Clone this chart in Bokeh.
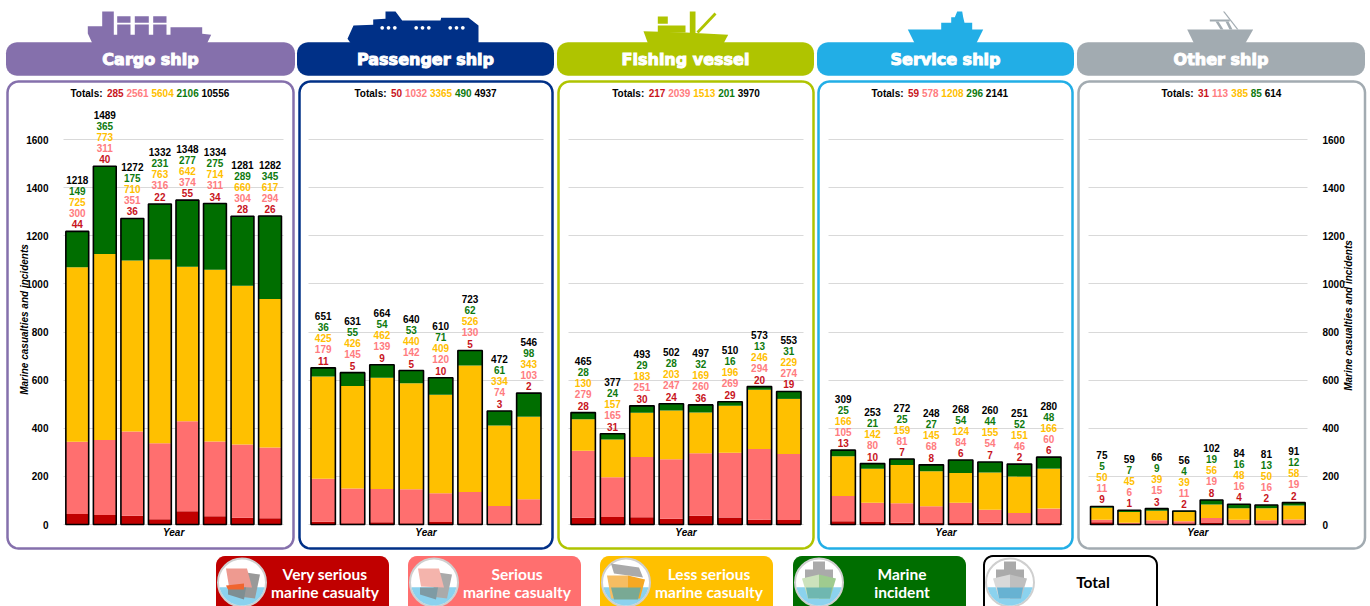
import math
from bokeh.plotting import figure
from bokeh.layouts import column, row
from bokeh.models import ColumnDataSource, Range1d, FixedTicker
from bokeh.core.properties import value
from bokeh.embed import file_html
from bokeh.resources import INLINE

# ---- data -----------------------------------------------------------------
ship_types = ["Cargo ship", "Passenger ship", "Fishing vessel", "Service ship", "Other ship"]
cargo_very = [44, 40, 36, 22, 55, 34, 28, 26]
cargo_serious = [300, 311, 351, 316, 374, 311, 304, 294]
cargo_less = [725, 773, 710, 763, 642, 714, 660, 617]
cargo_incident = [149, 365, 175, 231, 277, 275, 289, 345]
cargo_total = [1218, 1489, 1272, 1332, 1348, 1334, 1281, 1282]
cargo_sums = [285, 2561, 5604, 2106, 10556]

passenger_very = [11, 5, 9, 5, 10, 5, 3, 2]
passenger_serious = [179, 145, 139, 142, 120, 130, 74, 103]
passenger_less = [425, 426, 462, 440, 409, 526, 334, 343]
passenger_incident = [36, 55, 54, 53, 71, 62, 61, 98]
passenger_total = [651, 631, 664, 640, 610, 723, 472, 546]
passenger_sums = [50, 1032, 3365, 490, 4937]

fishing_very = [28, 31, 30, 24, 36, 29, 20, 19]
fishing_serious = [279, 165, 251, 247, 260, 269, 294, 274]
fishing_less = [130, 157, 183, 203, 169, 196, 246, 229]
fishing_incident = [28, 24, 29, 28, 32, 16, 13, 31]
fishing_total = [465, 377, 493, 502, 497, 510, 573, 553]
fishing_sums = [217, 2039, 1513, 201, 3970]

service_very = [13, 10, 7, 8, 6, 7, 2, 6]
service_serious = [105, 80, 81, 68, 84, 54, 46, 60]
service_less = [166, 142, 159, 145, 124, 155, 151, 166]
service_incident = [25, 21, 25, 27, 54, 44, 52, 48]
service_total = [309, 253, 272, 248, 268, 260, 251, 280]
service_sums = [59, 578, 1208, 296, 2141]

other_very = [9, 1, 3, 2, 8, 4, 2, 2]
other_serious = [11, 6, 15, 11, 19, 16, 16, 19]
other_less = [50, 45, 39, 39, 56, 48, 50, 58]
other_incident = [5, 7, 9, 4, 19, 16, 13, 12]
other_total = [75, 59, 66, 56, 102, 84, 81, 91]
other_sums = [31, 113, 385, 85, 614]

y_ticks = [0, 200, 400, 600, 800, 1000, 1200, 1400, 1600]
legend_labels = [("Very serious", "marine casualty"), ("Serious", "marine casualty"),
                 ("Less serious", "marine casualty"), ("Marine", "incident"), ("Total",)]
x_title, y_title = "Year", "Marine casualties and incidents"

# ---- style ----------------------------------------------------------------
FILL = ["#c00000", "#ff6f6f", "#ffc000", "#006e00"]
TXT = ["#c8141c", "#ff7c80", "#ffc000", "#0e7a0e", "#000000"]
THEME = ["#8570ac", "#003087", "#afc400", "#22aee6", "#a2abb1"]
FONT = "Liberation Sans"
PX_PER_UNIT = 385 / 1600
ZERO_Y, FIG_H = 524, 552

FIGS = [(0, 296, 63, 283.3), (296, 556, 308, 543), (556, 816, 568, 803),
        (816, 1076, 828, 1063), (1076, 1370, 1087.7, 1307)]
PANELS = [(7, 293), (299, 552), (558, 813), (818, 1072), (1078, 1364.5)]
HEADERS = [(5.5, 294.5), (296.5, 553.5), (556.5, 813.5), (816.5, 1073.5), (1076.5, 1364.5)]
TOT_X = [70, 354, 611.7, 871, 1161]
OFFS = [7, 18.5, 29.5, 40.5, 51.5]


def rounded(l, r, t, b, rad=9):
    xs, ys = [], []
    for cx, cy, a0 in [(r - rad, t + rad, -90), (r - rad, b - rad, 0), (l + rad, b - rad, 90), (l + rad, t + rad, 180)]:
        for d in range(0, 91, 15):
            a = math.radians(a0 + d)
            xs.append(cx + rad * math.cos(a))
            ys.append(cy + rad * math.sin(a))
    xs.append(xs[0])
    ys.append(ys[0])
    return xs, ys


def icon(i):
    """ship silhouettes, page pixels: list of (xs, ys, color)"""
    c, w = THEME[i], "#ffffff"
    if i == 0:
        out = [([87.3, 101.7, 101.7, 113.3, 113.3, 170, 170, 201.7, 201.7, 210.7, 206.7, 91.7, 87.3],
                [25.7, 25.7, 11, 11, 34.3, 34.3, 26.7, 26.7, 33.3, 34.3, 42.5, 42.5, 33], c)]
        for a, b in [(116.7, 130), (134.3, 148.3), (152.7, 166)]:
            out.append(([a, b, b, a], [15.7, 15.7, 22.3, 22.3], c))
            out.append(([a, b, b, a], [24, 24, 35, 35], c))
        return out
    if i == 1:
        out = [([347, 353, 372.7, 372.7, 385, 385, 395, 401.7, 440, 440.7, 468, 478, 478, 350],
                [38.3, 25, 24.3, 19, 18.3, 11, 11, 20, 20, 17.3, 17.3, 25, 42.5, 42.5], c)]
        for gx in [381.7, 415.7, 449.7]:
            for k in range(3):
                xs = [gx + k * 6.3 + 1.9 * math.cos(t * math.pi / 4) for t in range(8)]
                ys = [27.3 + 1.9 * math.sin(t * math.pi / 4) for t in range(8)]
                out.append((xs, ys, w))
        return out
    if i == 2:
        return [([643, 685, 727.7, 723.3, 647.3], [30.7, 32, 34.3, 42.5, 42.5], c),
                ([657.3, 667.3, 667.3, 657.3], [16, 16, 23.3, 23.3], c),
                ([657.3, 685, 685, 657.3], [25, 25, 32, 32], c),
                ([689.3, 695, 695, 689.3], [11, 11, 33, 33], c),
                ([696, 714, 716, 698], [31, 12, 14, 33], c)]
    if i == 3:
        return [([907.3, 940.7, 940.7, 950.7, 950.7, 954.3, 956.7, 961.7, 962.7, 964, 971.7, 971.7,
                  982.7, 976, 914],
                 [29, 29, 22.3, 22.3, 16.7, 16.7, 11, 11, 16.7, 22.3, 22.3, 29, 29, 42.5, 42.5], c)]
    return [([1186.7, 1252.7, 1245, 1193.3], [29, 29, 42.5, 42.5], c),
            ([1209.3, 1229.3, 1229.3, 1209.3], [19, 19, 21, 21], c),
            ([1215, 1218, 1223, 1220], [21, 21, 29, 29], c),
            ([1225, 1228, 1232, 1229], [21, 21, 29, 29], c),
            ([1222.5, 1224, 1238, 1236.5], [11, 11, 29, 29], c)]


def make_panel(i, very, serious, less, incident, total, sums):
    fx0, fx1, fl, fr = FIGS[i]
    xd = lambda px: (px - fl) / (fr - fl) * 8 - 0.5
    yd = lambda py: (ZERO_Y - py) / PX_PER_UNIT
    p = figure(width=fx1 - fx0, height=FIG_H, output_backend="svg", toolbar_location=None,
               x_range=Range1d(xd(fx0), xd(fx1)), y_range=Range1d(yd(FIG_H), yd(0)), min_border=0,
               y_axis_location="right" if i == 4 else "left", background_fill_color=None,
               border_fill_color=None, outline_line_color=None)

    def label(px, py, s, color="#000000", font=FONT, size="10px", style="bold", align="center",
              angle=0, baseline="middle", outline=None):
        p.text(x=[xd(px)], y=[yd(py)], text=[s], text_align=align, text_baseline=baseline,
               text_font=value(font), text_font_size=size, text_font_style=style,
               text_color=color, angle=angle, text_outline_color=outline)

    # panel frame, header, ship icon
    pl, pr = PANELS[i]
    xs, ys = rounded(pl, pr, 81, 548, 11)
    p.line([xd(v) for v in xs], [yd(v) for v in ys], line_color=THEME[i], line_width=2.5)
    hl, hr = HEADERS[i]
    xs, ys = rounded(hl, hr, 41.8, 75.2, 11)
    p.patch([xd(v) for v in xs], [yd(v) for v in ys], fill_color=THEME[i], line_color=None)
    for xs, ys, c in icon(i):
        p.patch([xd(v) for v in xs], [yd(v) for v in ys], fill_color=c, line_color=None)
    label((hl + hr) / 2, 59, ship_types[i], color="#ffffff", font="DejaVu Sans", size="16px",
          outline="#ffffff")

    # totals line
    cx = TOT_X[i]
    parts = [("Totals:", "#000000")] + [(str(v), TXT[k]) for k, v in enumerate(sums)]
    for n, (s, c) in enumerate(parts):
        label(cx, 92.5, s, color=c, align="left", baseline="alphabetic")
        cx += (33.7 if n == 0 else len(s) * 5.56) + 2.78

    # bars
    src = ColumnDataSource(dict(x=list(range(8)), very=very, serious=serious, less=less,
                                incident=incident, total=total,
                                t_very=[str(v) for v in very], t_serious=[str(v) for v in serious],
                                t_less=[str(v) for v in less], t_incident=[str(v) for v in incident],
                                t_total=[str(v) for v in total]))
    p.vbar_stack(["very", "serious", "less", "incident"], x="x", width=0.83, source=src,
                 color=FILL, line_width=0)
    p.vbar(x="x", top="total", bottom=0, width=0.83, source=src, fill_color=None,
           line_color="#000000", line_width=1.6)
    for k, col in enumerate(["t_very", "t_serious", "t_less", "t_incident", "t_total"]):
        p.text(x="x", y="total", text=col, source=src, y_offset=-OFFS[k], text_align="center",
               text_baseline="middle", text_font=value(FONT), text_font_size="10px",
               text_font_style="bold", text_color=TXT[k])

    # axes and grid
    p.xgrid.visible = False
    p.xaxis.visible = False
    p.ygrid.ticker = FixedTicker(ticks=y_ticks)
    p.ygrid.grid_line_color = "#d9d9d9"
    p.ygrid.cross_bounds = (-0.5, 7.5)
    label((fl + fr) / 2, 531.7, x_title, style="bold italic")
    ya = p.yaxis[0]
    if i in (0, 4):
        ya.fixed_location = -0.5 if i == 0 else 7.5
        ya.ticker = FixedTicker(ticks=y_ticks)
        ya.axis_line_color = None
        ya.major_tick_line_color = None
        ya.minor_tick_line_color = None
        ya.major_label_standoff = 9
        ya.major_label_text_font = FONT
        ya.major_label_text_font_size = "10px"
        ya.major_label_text_font_style = "bold"
        ya.major_label_text_color = "#000000"
        tx, ty = (24, 319) if i == 0 else (1348, 315)
        label(tx, ty, y_title, style="bold italic", angle=math.pi / 2)
    else:
        ya.visible = False
    return p


f = [make_panel(0, cargo_very, cargo_serious, cargo_less, cargo_incident, cargo_total, cargo_sums),
     make_panel(1, passenger_very, passenger_serious, passenger_less, passenger_incident, passenger_total, passenger_sums),
     make_panel(2, fishing_very, fishing_serious, fishing_less, fishing_incident, fishing_total, fishing_sums),
     make_panel(3, service_very, service_serious, service_less, service_incident, service_total, service_sums),
     make_panel(4, other_very, other_serious, other_less, other_incident, other_total, other_sums)]

# ---- legend strip ---------------------------------------------------------
lg = figure(width=1370, height=54, output_backend="svg", toolbar_location=None,
            x_range=Range1d(0, 1370), y_range=Range1d(606, 552), min_border=0,
            background_fill_color=None, border_fill_color=None, outline_line_color=None)
lg.axis.visible = False
lg.grid.visible = False

LEG_BOX = [(215.5, 388.5), (407.5, 580.5), (599.5, 772.5), (792.5, 965.5), (983.5, 1156.5)]
LEG_FILL = FILL + ["#ffffff"]
LEG_TXT = ["#ffffff"] * 4 + ["#000000"]
WATER_Y = 587
# ship pieces per badge as offsets from the circle centre: (offset points, colour)
BADGE = [
    [([4, 18, 13, -3], [-10, -8, 16, 14], "#999999"), ([-16, 5, 10, -13], [-14, -14, 5, 4], "#ee9a90"),
     ([-14, 4, 2, -14], [5, 5, 17, 12], "#7e8e92"), ([-16, 2, 2, -14], [3, 1, 7, 7], "#f0652f")],
    [([4, 18, 13, -3], [-10, -8, 16, 14], "#aaaaaa"), ([-16, 5, 10, -13], [-14, -14, 5, 4], "#f4b4ac"),
     ([-14, 4, 2, -14], [5, 5, 17, 12], "#7e9ba4")],
    [([-15, 13, 17, -12], [-19, -15, -5, -9], "#aaaaaa"), ([-19, 2, 2, -15], [-7, -7, 16, 16], "#f6bd62"),
     ([2, 19, 14, 2], [-7, -3, 16, 16], "#f6a823"), ([-15, 15, 12, -12], [5, 5, 17, 17], "#79a994")],
    [([-6, 6, 6, 14, 14, -14, -14, -6], [-21, -21, -13, -13, -4, -4, -13, -13], "#aaaaaa"),
     ([-17, 0, 0, -11], [-4, -8, 16, 16], "#cce2bc"), ([0, 17, 11, 0], [-8, -4, 16, 16], "#9fcb8f"),
     ([-13, 13, 11, -11], [5, 5, 16, 16], "#6fb7b0")],
    [([-6, 6, 6, 14, 14, -14, -14, -6], [-21, -21, -13, -13, -4, -4, -13, -13], "#aaaaaa"),
     ([-17, 0, 0, -11], [-4, -8, 16, 16], "#d9d9d9"), ([0, 17, 11, 0], [-8, -4, 16, 16], "#bfbfbf"),
     ([-13, 13, 11, -11], [5, 5, 16, 16], "#67b2d2")],
]
for i, (l, r) in enumerate(LEG_BOX):
    xs, ys = rounded(l, r, 555.5, 616)
    lg.patch(xs, ys, fill_color=LEG_FILL[i], line_color="#000000" if i == 4 else LEG_FILL[i],
             line_width=2 if i == 4 else 0)
    cx, cy, rad = l + 26, 582, 24
    lg.circle(x=[cx], y=[cy], radius=rad, fill_color="#ffffff", line_color="#cfcfcf", line_width=2)
    a0 = math.asin((WATER_Y - cy) / rad)
    ang = [a0 + (math.pi - 2 * a0) * k / 30 for k in range(31)]
    lg.patch([cx + (rad - 1) * math.cos(a) for a in ang], [cy + (rad - 1) * math.sin(a) for a in ang],
             fill_color="#8bd2ee", line_color=None)
    for ox, oy, c in BADGE[i]:
        lg.patch([cx + v for v in ox], [cy + v for v in oy], fill_color=c, line_color=None)
    lines = legend_labels[i]
    ypos = [573.5, 591.2] if len(lines) == 2 else [581.7]
    for s, yy in zip(lines, ypos):
        lg.text(x=[l + 109], y=[yy], text=[s], text_align="center", text_baseline="middle",
                text_font=value("Lato"), text_font_size="15.5px", text_font_style="bold",
                text_color=LEG_TXT[i])

root = column(row(*f, spacing=0), lg, spacing=0)
root.styles = {"position": "absolute", "left": "0px", "top": "0px"}
open("out.html", "w").write(file_html(root, INLINE))
